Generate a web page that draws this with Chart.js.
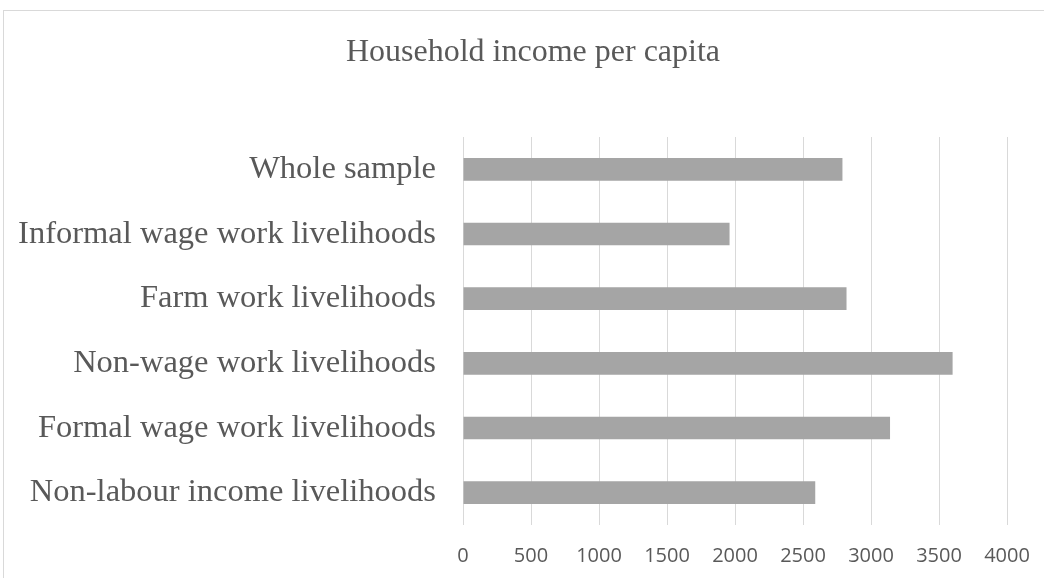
<!DOCTYPE html>
<html>
<head>
<meta charset="utf-8">
<script src="https://cdn.jsdelivr.net/npm/chart.js@4"></script>
<style>
  html, body { margin: 0; padding: 0; background: #fff; overflow: hidden; }
  #wrap { width: 1044px; height: 578px; position: relative; }
</style>
</head>
<body>
<div id="wrap"><canvas id="chart" width="1044" height="578"></canvas></div>
<script>
// categorias y valores
const categories = [
  'Whole sample',
  'Informal wage work livelihoods',
  'Farm work livelihoods',
  'Non-wage work livelihoods',
  'Formal wage work livelihoods',
  'Non-labour income livelihoods'
];
const incomeValues = [2790, 1960, 2820, 3600, 3140, 2590];
const xTicks = [0, 500, 1000, 1500, 2000, 2500, 3000, 3500, 4000];
const chartTitle = 'Household income per capita';

//borde gris del area del grafico (sale por la derecha y abajo)
const frameBorder = {
  id: 'frameBorder',
  beforeDraw(chart) {
    const ctx = chart.ctx;
    ctx.save();
    ctx.strokeStyle = '#d9d9d9';
    ctx.lineWidth = 1;
    ctx.strokeRect(3.5, 10.5, 1100, 600);
    ctx.restore();
  }
};

//titulo dibujado a mano para poder centrarlo igual que el original
const centeredTitle = {
  id: 'centeredTitle',
  afterDraw(chart) {
    const ctx = chart.ctx;
    ctx.save();
    ctx.fillStyle = '#595959';
    ctx.font = '32px "Liberation Serif", "Times New Roman", serif';
    ctx.textAlign = 'center';
    ctx.textBaseline = 'middle';
    ctx.fillText(chartTitle, 533, 53);
    ctx.restore();
  }
};

const ctx = document.getElementById('chart').getContext('2d');
new Chart(ctx, {
  type: 'bar',
  data: {
    labels: categories,
    datasets: [{
      label: chartTitle,
      data: incomeValues,
      backgroundColor: '#a5a5a5',
      borderWidth: 0,
      categoryPercentage: 1,
      barPercentage: 0.35
    }]
  },
  options: {
    indexAxis: 'y',
    responsive: false,
    animation: false,
    layout: { padding: { left: 0, right: 37, top: 137, bottom: 0 } },
    plugins: {
      legend: { display: false },
      tooltip: { enabled: false },
      title: { display: false }
    },
    scales: {
      x: {
        min: 0,
        max: 4000,
        afterBuildTicks(axis) { axis.ticks = xTicks.map(v => ({ value: v })); },
        afterFit(axis) {
          axis.height = 53;
          axis.paddingLeft = 0;
          axis.paddingRight = 0;
        },
        grid: { color: '#d9d9d9', lineWidth: 1, drawTicks: false },
        border: { display: false },
        ticks: {
          color: '#595959',
          padding: 19,
          maxRotation: 0,
          callback: v => String(v),
          font: { family: '"Open Sans", sans-serif', size: 20 }
        }
      },
      y: {
        afterFit(axis) { axis.width = 463; },
        grid: { display: false, drawTicks: false },
        border: { display: false },
        ticks: {
          color: '#595959',
          padding: 27,
          font: { family: '"Liberation Serif", "Times New Roman", serif', size: 32.5 }
        }
      }
    }
  },
  plugins: [frameBorder, centeredTitle]
});
</script>
</body>
</html>
